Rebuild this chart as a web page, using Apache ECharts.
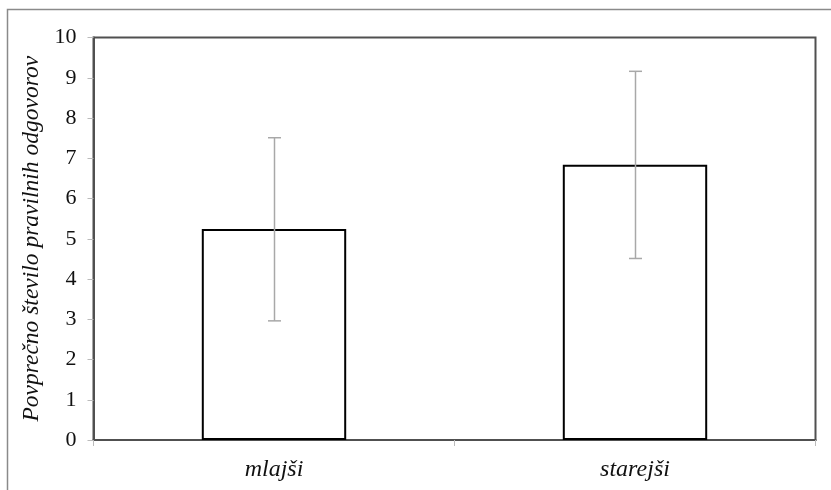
<!DOCTYPE html>
<html><head><meta charset="utf-8">
<script src="https://cdn.jsdelivr.net/npm/echarts@6/dist/echarts.min.js"></script>
<style>html,body{margin:0;padding:0;background:#fff}#c{width:831px;height:490px}</style>
</head><body><div id="c"></div>
<script>
var categories = ['mlajši', 'starejši'];
var means = [5.24, 6.84];
var errLow = [2.96, 4.51];
var errHigh = [7.51, 9.16];
var yTicks = [0, 1, 2, 3, 4, 5, 6, 7, 8, 9, 10];

var chart = echarts.init(document.getElementById('c'));
var F = '"Liberation Serif", "Times New Roman", serif';
chart.setOption({
  animation: false,
  backgroundColor: '#fff',
  graphic: [{
    type: 'rect', shape: {x: 7.5, y: 9.5, width: 840, height: 500},
    style: {fill: 'none', stroke: '#8a8a8a', lineWidth: 1.5}, z: -1
  }],
  grid: {left: 93.5, right: 15.5, top: 37.5, bottom: 50, show: true, borderColor: '#505050', borderWidth: 2, backgroundColor: 'transparent'},
  xAxis: {
    type: 'category', data: categories, boundaryGap: true,
    axisLine: {lineStyle: {color: '#505050', width: 2}},
    axisTick: {show: true, alignWithLabel: false, length: 6, lineStyle: {color: '#bbbbbb', width: 1}},
    axisLabel: {fontFamily: F, fontStyle: 'italic', fontSize: 24, color: '#111', margin: 18}
  },
  yAxis: {
    type: 'value', min: yTicks[0], max: yTicks[yTicks.length - 1], interval: 1,
    name: 'Povprečno število pravilnih odgovorov', nameLocation: 'middle', nameGap: 44,
    nameTextStyle: {fontFamily: F, fontStyle: 'italic', fontSize: 23.5, color: '#111'},
    axisLine: {show: true, lineStyle: {color: '#505050', width: 2}},
    axisTick: {show: true, length: 6, lineStyle: {color: '#bbbbbb', width: 1}},
    splitLine: {show: false},
    axisLabel: {fontFamily: F, fontSize: 22, color: '#111', margin: 17}
  },
  series: [{
    type: 'bar', data: means, barWidth: '40%',
    itemStyle: {color: '#fff', borderColor: '#000', borderWidth: 2}
  }, {
    type: 'custom',
    data: categories.map(function (c, i) { return [i, errLow[i], errHigh[i]]; }),
    renderItem: function (params, api) {
      var lo = api.coord([api.value(0), api.value(1)]);
      var hi = api.coord([api.value(0), api.value(2)]);
      var x = Math.round(lo[0]) + 0.5, w = 6.5;
      var st = {stroke: '#a8a8a8', lineWidth: 1.5};
      return {type: 'group', children: [
        {type: 'line', shape: {x1: x, y1: lo[1], x2: x, y2: hi[1]}, style: st},
        {type: 'line', shape: {x1: x - w, y1: lo[1], x2: x + w, y2: lo[1]}, style: st},
        {type: 'line', shape: {x1: x - w, y1: hi[1], x2: x + w, y2: hi[1]}, style: st}
      ]};
    },
    z: 10
  }]
});
</script></body></html>
